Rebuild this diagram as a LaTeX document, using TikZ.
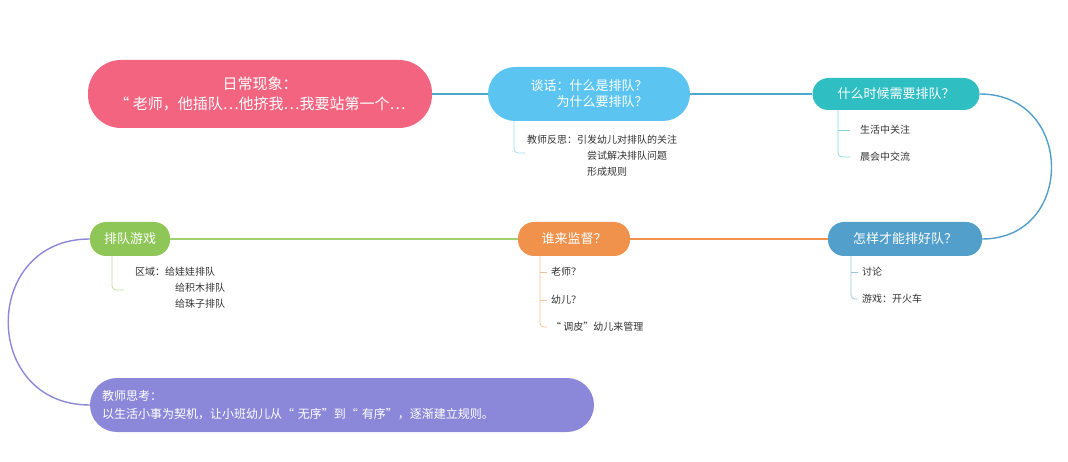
\documentclass[tikz,border=0pt]{standalone}
\usepackage{fontspec}
\setmainfont{Noto Sans CJK SC}
\usetikzlibrary{calc}
\definecolor{pinkC}{HTML}{F2647F}
\definecolor{skyC}{HTML}{5CC4F0}
\definecolor{tealC}{HTML}{2FBEC2}
\definecolor{steelC}{HTML}{529FCB}
\definecolor{orangeC}{HTML}{F0924C}
\definecolor{greenC}{HTML}{8EC657}
\definecolor{purpleC}{HTML}{8C88D9}
\tikzset{
	topic/.style={fill=#1, text=white, rounded corners=16pt, minimum height=34pt,
		inner xsep=12pt, font=\fontsize{13}{16}\selectfont, align=center},
	big topic/.style={topic=#1, rounded corners=27pt, minimum height=54pt},
	leaf/.style={anchor=west, inner sep=0pt, font=\fontsize{10}{16}\selectfont, align=left, text=black!80},
	link/.style={draw=#1, line width=1.4pt},
	brace/.style={draw=#1, line width=0.7pt, rounded corners=4pt}
}
\begin{document}
\begin{tikzpicture}[x=1pt,y=-1pt]
	\useasboundingbox (0,0) rectangle (1068,462);
	% main topics
	\node[big topic=pinkC, minimum width=344pt, minimum height=68pt, rounded corners=33pt,
		font=\fontsize{15}{20}\selectfont] (phen) at (260,94) {日常现象：\\“ 老师，他插队…他挤我…我要站第一个…};
	\node[big topic=skyC, minimum width=202pt] (talk) at (589,94) {谈话：什么是排队？\\\quad\quad 为什么要排队？};
	\node[topic=tealC, minimum width=167pt, minimum height=32pt] (when) at (896,94) {什么时候需要排队？};
	\node[topic=steelC, minimum width=154pt] (how) at (905,239) {怎样才能排好队？};
	\node[topic=orangeC, minimum width=112pt] (who) at (574,239) {谁来监督？};
	\node[topic=greenC, minimum width=80pt] (game) at (130,239) {排队游戏};
	\node[big topic=purpleC, text width=480pt, align=left, inner xsep=12pt,
		font=\fontsize{12}{18}\selectfont] (think) at (342,405) {教师思考：\\以生活小事为契机，让小班幼儿从“ 无序”到“ 有序”，逐渐建立规则。};

	% connectors
	\draw[link=skyC!85!black] (phen.east) -- (talk.west);
	\draw[link=skyC!85!black] (talk.east) -- (when.west);
	\draw[link=steelC] (when.east) .. controls (1075,94) and (1075,239) .. (how.east);
	\draw[link=orangeC] (how.west) -- (who.east);
	\draw[link=greenC!85!white] (who.west) -- (game.east);
	\draw[link=purpleC] (game.west) .. controls (-19,239) and (-19,405) .. (think.west);

	% leaves
	\node[leaf] (talkL) at (527,156) {教师反思：引发幼儿对排队的关注\\\hspace{60pt}尝试解决排队问题\\\hspace{60pt}形成规则};
	\draw[brace=skyC!60] (514,121) |- (525,153);
	\node[leaf] (whenA) at (860,130) {生活中关注};
	\node[leaf] (whenB) at (860,157) {晨会中交流};
	\draw[brace=tealC!60] (838,110) |- (850,157);
	\draw[brace=tealC!60] (838,130) -- (850,130);
	\node[leaf] (howA) at (862,272) {讨论};
	\node[leaf] (howB) at (862,299) {游戏：开火车};
	\draw[brace=steelC!60] (851,256) |- (858,299);
	\draw[brace=steelC!60] (851,272) -- (858,272);
	\node[leaf] (whoA) at (551,272) {老师？};
	\node[leaf] (whoB) at (551,300) {幼儿？};
	\node[leaf] (whoC) at (551,327) {“ 调皮”幼儿来管理};
	\draw[brace=orangeC!60] (540,256) |- (547,327);
	\foreach \y in {272,300} \draw[brace=orangeC!60] (540,\y) -- (547,\y);
	\node[leaf] (gameL) at (135,288) {区域：给娃娃排队\\\hspace{40pt}给积木排队\\\hspace{40pt}给珠子排队};
	\draw[brace=greenC!60] (112,256) |- (124,290);
\end{tikzpicture}
\end{document}
